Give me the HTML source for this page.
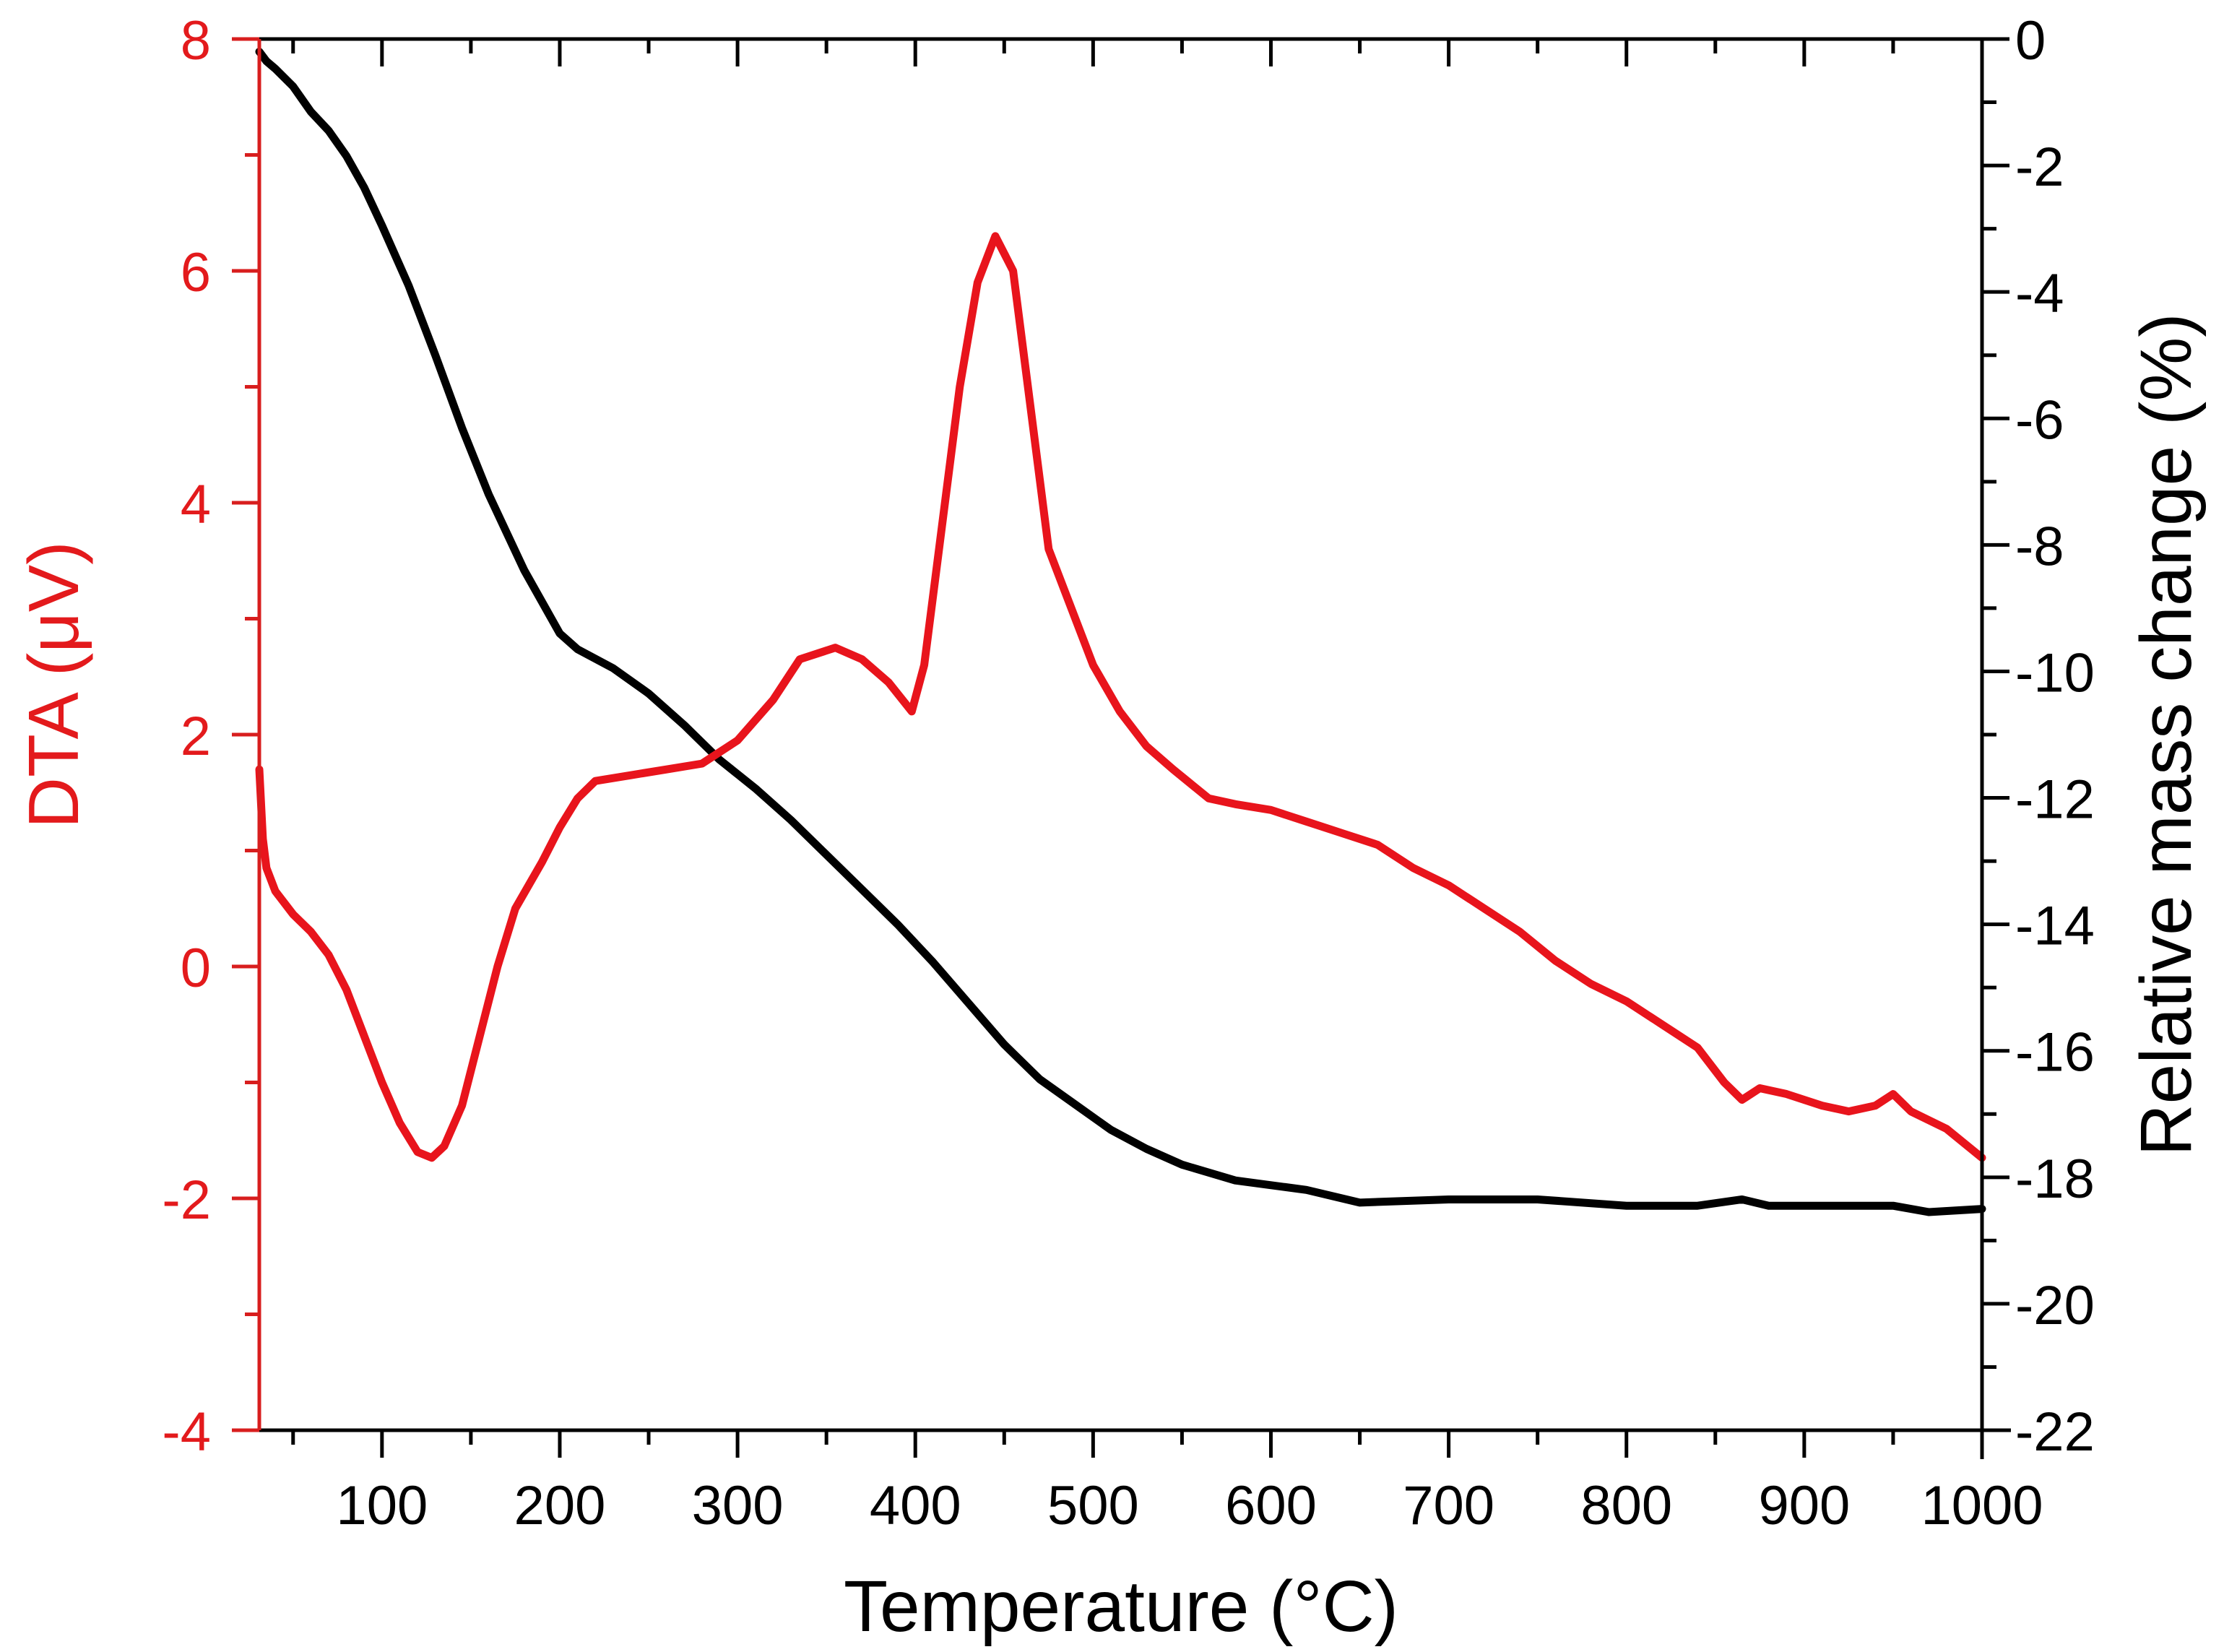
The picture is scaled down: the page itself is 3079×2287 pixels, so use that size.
<!DOCTYPE html>
<html><head><meta charset="utf-8"><style>
html,body{margin:0;padding:0;background:#fff;}
svg{display:block;font-family:"Liberation Sans",Arial,sans-serif;}
</style></head><body>
<svg id="chart" width="3079" height="2287" viewBox="0 0 3079 2287" xmlns="http://www.w3.org/2000/svg">
<g id="marks"></g>
<g id="axes"></g>
<text x="1552" y="2258" font-size="100" text-anchor="middle" fill="#000">Temperature (°C)</text>
<text transform="translate(108,948) rotate(-90)" font-size="98" text-anchor="middle" fill="#e31a1c">DTA (μV)</text>
<text transform="translate(3033,1017) rotate(-90)" font-size="100" text-anchor="middle" fill="#000">Relative mass change (%)</text>
</svg>
<script>
const xTicks=[100,200,300,400,500,600,700,800,900,1000];
const leftTicks=[8,6,4,2,0,-2,-4];
const rightTicks=[0,-2,-4,-6,-8,-10,-12,-14,-16,-18,-20,-22];
const dtaTemp=[31,33,35,40,50,60,70,80,90,100,110,120,128,135,145,155,165,175,190,200,210,220,240,260,280,300,320,335,355,370,385,398,405,415,425,435,445,455,465,475,490,500,515,530,545,565,580,600,620,640,660,680,700,720,740,760,780,800,820,840,855,865,875,890,910,925,940,950,960,980,1000];
const dtaVal=[1.7,1.1,0.85,0.65,0.45,0.3,0.1,-0.2,-0.6,-1.0,-1.35,-1.6,-1.65,-1.55,-1.2,-0.6,0.0,0.5,0.9,1.2,1.45,1.6,1.65,1.7,1.75,1.95,2.3,2.65,2.75,2.65,2.45,2.2,2.6,3.8,5.0,5.9,6.3,6.0,4.8,3.6,3.0,2.6,2.2,1.9,1.7,1.45,1.4,1.35,1.25,1.15,1.05,0.85,0.7,0.5,0.3,0.05,-0.15,-0.3,-0.5,-0.7,-1.0,-1.15,-1.05,-1.1,-1.2,-1.25,-1.2,-1.1,-1.25,-1.4,-1.65];
const massTemp=[31,35,40,50,60,70,80,90,100,115,130,145,160,180,200,210,230,250,270,290,310,330,350,370,390,410,430,450,470,490,510,530,550,580,620,650,700,750,800,840,865,880,920,950,970,1000];
const massVal=[-0.2,-0.35,-0.47,-0.75,-1.15,-1.45,-1.85,-2.35,-2.95,-3.9,-5.0,-6.15,-7.2,-8.4,-9.4,-9.65,-9.95,-10.35,-10.85,-11.4,-11.85,-12.35,-12.9,-13.45,-14.0,-14.6,-15.25,-15.9,-16.45,-16.85,-17.25,-17.55,-17.8,-18.05,-18.2,-18.4,-18.35,-18.35,-18.45,-18.45,-18.35,-18.45,-18.45,-18.45,-18.55,-18.5];
const L=359,R=2744,T=54,B=1980,XMIN=31,XMAX=1000;
const sx=v=>L+(v-XMIN)/(XMAX-XMIN)*(R-L);
const syL=v=>T+(8-v)/12*(B-T);
const syR=v=>T+(0-v)/22*(B-T);
const NS='http://www.w3.org/2000/svg';
const axes=document.getElementById('axes'),marks=document.getElementById('marks');
function mk(tag,attrs,parent){const e=document.createElementNS(NS,tag);for(const k in attrs)e.setAttribute(k,attrs[k]);parent.appendChild(e);return e;}
let p=mk('polyline',{points:massTemp.map((t,i)=>sx(t)+','+syR(massVal[i])).join(' '),fill:'none',stroke:'#000','stroke-width':11,'stroke-linejoin':'round','stroke-linecap':'round'},marks);


p=mk('polyline',{points:dtaTemp.map((t,i)=>sx(t)+','+syL(dtaVal[i])).join(' '),fill:'none',stroke:'#e8141c','stroke-width':11,'stroke-linejoin':'round','stroke-linecap':'round'},marks);


let a=mk('line',{x1:L,y1:T,x2:R,y2:T,stroke:'#000','stroke-width':5},axes);

a=mk('line',{x1:L,y1:B,x2:R+40,y2:B,stroke:'#000','stroke-width':5},axes);

a=mk('line',{x1:R,y1:T,x2:R,y2:B+40,stroke:'#000','stroke-width':5},axes);

a=mk('line',{x1:L,y1:T,x2:L,y2:B,stroke:'#d81e1e','stroke-width':5},axes);

for(let v=50;v<=1000;v+=50){const x=sx(v);const major=v%100===0;const len=major?38:20;
 mk('line',{x1:x,y1:B,x2:x,y2:B+len,stroke:'#000','stroke-width':5},axes);
 mk('line',{x1:x,y1:T,x2:x,y2:T+len,stroke:'#000','stroke-width':5},axes);}
xTicks.forEach(v=>{const t=mk('text',{x:sx(v),y:2110,'font-size':76,'text-anchor':'middle',fill:'#000'},axes);t.textContent=v;
 });
for(let v=-4;v<=8;v+=1){const y=syL(v);const len=v%2===0?38:20;mk('line',{x1:L-len,y1:y,x2:L,y2:y,stroke:'#d81e1e','stroke-width':5},axes);}
leftTicks.forEach(v=>{const t=mk('text',{x:292,y:syL(v)+28,'font-size':76,'text-anchor':'end',fill:'#e31a1c'},axes);t.textContent=v;
 });
for(let v=-22;v<=0;v+=1){const y=syR(v);const len=v%2===0?38:20;mk('line',{x1:R,y1:y,x2:R+len,y2:y,stroke:'#000','stroke-width':5},axes);}
rightTicks.forEach(v=>{const t=mk('text',{x:2790,y:syR(v)+28,'font-size':76,'text-anchor':'start',fill:'#000'},axes);t.textContent=v;
 });
</script>
</body></html>
